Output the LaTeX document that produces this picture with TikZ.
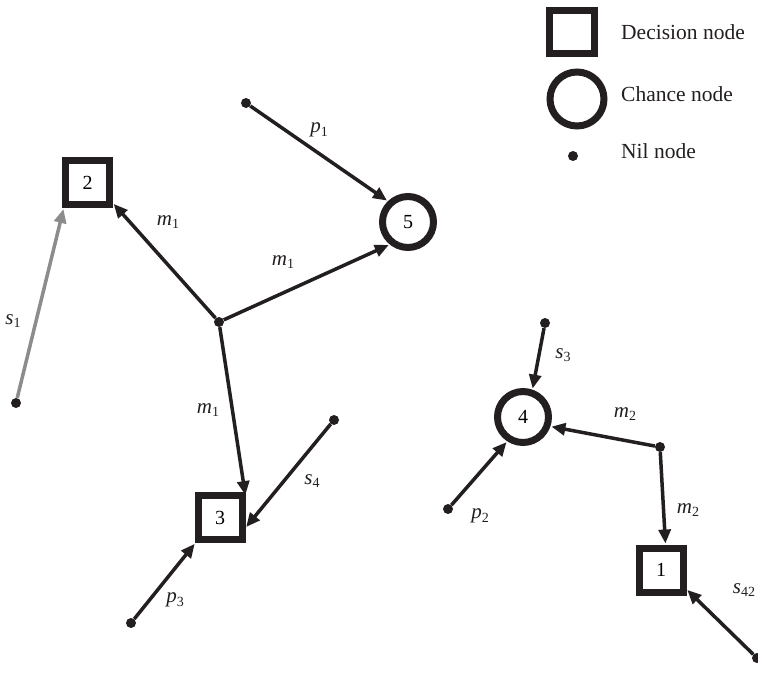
\documentclass[tikz,border=0pt]{standalone}
\usepackage{fontspec}
\setmainfont{Liberation Serif}
\usetikzlibrary{arrows.meta}
\definecolor{ink}{RGB}{35,31,32}
\definecolor{soft}{RGB}{140,140,140}
\newcommand{\lbl}[2]{{\itshape #1}\raisebox{-0.35ex}{\fontsize{14}{14}\selectfont #2}}
\begin{document}
\begin{tikzpicture}[x=1pt,y=-1pt,
  decision/.style={draw=ink,line width=7pt,minimum size=44pt,inner sep=0pt,font=\fontsize{20}{20}\selectfont},
  chance/.style={circle,draw=ink,line width=7pt,minimum size=51pt,inner sep=0pt,font=\fontsize{20}{20}\selectfont},
  nil/.style={circle,fill=ink,minimum size=10pt,inner sep=0pt},
  link/.style={draw=ink,line width=3.5pt,-{Triangle[length=14pt,width=12pt]},shorten >=1pt},
  lab/.style={font=\fontsize{21}{21}\selectfont,text=ink},
  legtext/.style={anchor=west,inner sep=0pt,font=\fontsize{21.5}{21.5}\selectfont,text=ink}]
\useasboundingbox (0,0) rectangle (758,673);

% legend
\node[decision,minimum width=45pt,minimum height=43pt] (kd) at (572,32) {};
\node[legtext] (kdt) at (621,32) {Decision\ node};
\node[chance,minimum size=54pt] (kc) at (577,99) {};
\node[legtext] (kct) at (621,94) {Chance\ node};
\node[nil] (kn) at (573,156) {};
\node[legtext] (knt) at (621,151) {Nil\ node};

% decision and chance nodes
\node[decision] (n2) at (87.5,182.5) {2};
\node[chance] (n5) at (408,222) {5};
\node[decision] (n3) at (220,517.5) {3};
\node[chance] (n4) at (523,417) {4};
\node[decision] (n1) at (661,570) {1};

% nil nodes
\node[nil] (a1) at (16,403) {};
\node[nil] (c1) at (219,322) {};
\node[nil] (a5) at (246,103) {};
\node[nil] (a4) at (334,420) {};
\node[nil] (a3) at (131,623) {};
\node[nil] (b3) at (545,323) {};
\node[nil] (d2) at (660,447) {};
\node[nil] (b2) at (448,509) {};
\node[nil] (b42) at (757,658) {};

% connectors
\draw[link,draw=soft] (a1) -- (n2.-133);
\draw[link] (c1) -- (n2.-39);
\draw[link] (c1) -- (n5.231);
\draw[link] (a5) -- (n5.134);
\draw[link] (c1) -- (n3.40);
\draw[link] (a4) -- (n3.-22);
\draw[link] (a3) -- (n3.-134);
\draw[link] (b3) -- (n4.71);
\draw[link] (d2) -- (n4.-19);
\draw[link] (b2) -- (n4.-123);
\draw[link] (d2) -- (n1.80);
\draw[link] (b42) -- (n1.-37);

% edge labels
\node[lab] (l1) at (13,321) {\lbl{s}{1}};
\node[lab] (l2) at (168,222) {\lbl{m}{1}};
\node[lab] (l3) at (319,130) {\lbl{p}{1}};
\node[lab] (l4) at (283,262) {\lbl{m}{1}};
\node[lab] (l5) at (208,410) {\lbl{m}{1}};
\node[lab] (l6) at (312,481) {\lbl{s}{4}};
\node[lab] (l7) at (175,600) {\lbl{p}{3}};
\node[lab] (l8) at (563,355) {\lbl{s}{3}};
\node[lab] (l9) at (625,414) {\lbl{m}{2}};
\node[lab] (l10) at (480,516) {\lbl{p}{2}};
\node[lab] (l11) at (688,510) {\lbl{m}{2}};
\node[lab] (l12) at (744,590) {\lbl{s}{42}};
\end{tikzpicture}
\end{document}
